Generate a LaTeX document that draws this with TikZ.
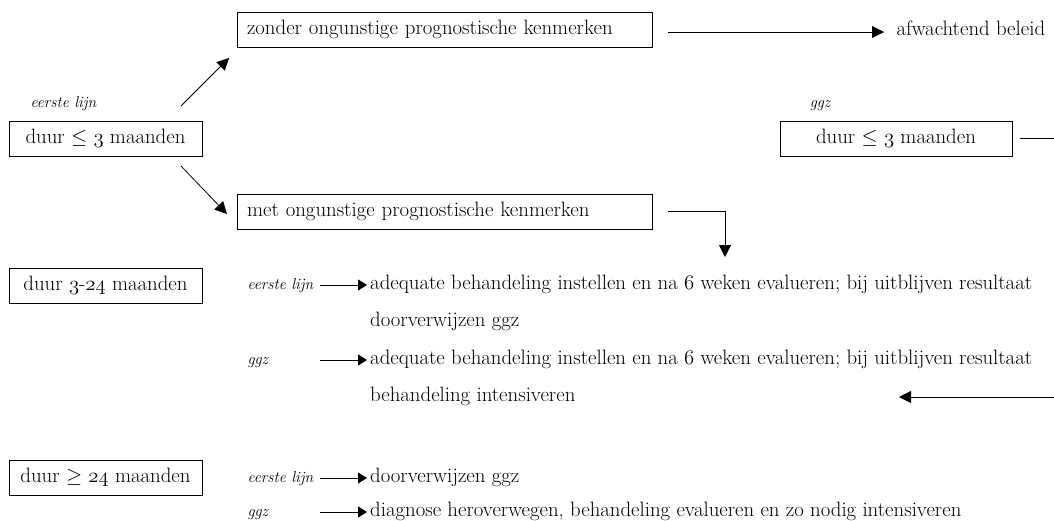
\documentclass[tikz,border=0pt]{standalone}
\usepackage{fontspec}
\usetikzlibrary{arrows.meta}
\newcommand{\osn}[1]{{\usefont{OML}{cmm}{m}{it}#1}}
\begin{document}
\begin{tikzpicture}[x=1pt,y=-1pt,
  every node/.style={font=\fontsize{20.8}{24}\selectfont, text height=14, text depth=5},
  ital/.style={font=\fontsize{15.7}{19}\selectfont\itshape},
  box/.style={draw, line width=0.7pt, minimum height=35, inner sep=0pt},
  wbox/.style={box, text width=395, align=left, inner xsep=10},
  arr/.style={line width=0.8pt, -{Triangle[length=12,width=12]}},
  sarr/.style={line width=0.8pt, -{Triangle[length=9,width=11]}},
  ln/.style={line width=0.8pt}]
\useasboundingbox (0,0) rectangle (1054,520);
% boxes
\node[box, minimum width=193] (d3) at (105.5,138.5) {duur $\leq$ \osn{3} maanden};
\node[ital, anchor=west] (el1) at (27,103) {eerste lijn};
\node[wbox] (zonder) at (444.5,29.5) {zonder ongunstige prognostische kenmerken};
\node[wbox] (met) at (444.5,211.5) {met ongunstige prognostische kenmerken};
\node[anchor=west] (afw) at (893,31) {afwachtend beleid};
\node[box, minimum width=232] (g3) at (896,138.5) {duur $\leq$ \osn{3} maanden};
\node[ital] (ggz1) at (820,103) {ggz};
\node[box, minimum width=193] (d24) at (105.5,285.5) {duur \osn{3}-\osn{24} maanden};
\node[box, minimum width=193] (d24b) at (105.5,478) {duur $\geq$ \osn{24} maanden};
% rows
\node[ital, anchor=west] (r1l) at (244,285) {eerste lijn};
\node[anchor=west, inner xsep=0] (r1) at (370,285) {adequate behandeling instellen en na \osn{6} weken evalueren; bij uitblijven resultaat};
\node[anchor=west, inner xsep=0] (r1b) at (370,322) {doorverwijzen ggz};
\node[ital, anchor=west] (r2l) at (244,360) {ggz};
\node[anchor=west, inner xsep=0] (r2) at (370,360) {adequate behandeling instellen en na \osn{6} weken evalueren; bij uitblijven resultaat};
\node[anchor=west, inner xsep=0] (r2b) at (370,397) {behandeling intensiveren};
\node[ital, anchor=west] (r3l) at (244,478) {eerste lijn};
\node[anchor=west, inner xsep=0] (r3) at (370,478) {doorverwijzen ggz};
\node[ital, anchor=west] (r4l) at (244,512) {ggz};
\node[anchor=west, inner xsep=0] (r4) at (370,512) {diagnose heroverwegen, behandeling evalueren en zo nodig intensiveren};
% connector coordinates
\coordinate (a1s) at (181,106); \coordinate (a1e) at (229,58);
\coordinate (a2s) at (181,166); \coordinate (a2e) at (227,214);
\coordinate (a3s) at (668,32); \coordinate (a3e) at (884,32);
\coordinate (a4s) at (668,211); \coordinate (a4e) at (725,257);
\coordinate (a5s) at (1020,138); \coordinate (a5e) at (1054,138);
\coordinate (a6s) at (1054,397); \coordinate (a6e) at (899,397);
\draw[arr] (a1s) -- (a1e);
\draw[arr] (a2s) -- (a2e);
\draw[arr] (a3s) -- (a3e);
\draw[arr] (a4s) -| (a4e);
\draw[ln] (a5s) -- (a5e);
\draw[arr] (a6s) -- (a6e);
\foreach \y in {285,360,478,512} {
  \draw[sarr] (320,\y) -- (367,\y);
}
\end{tikzpicture}
\end{document}
